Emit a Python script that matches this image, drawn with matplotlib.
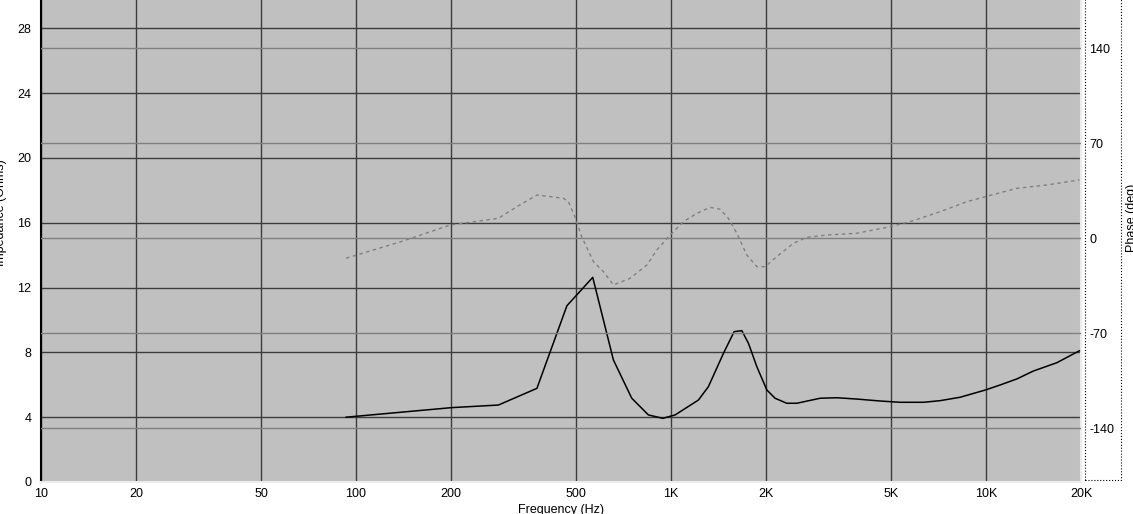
import matplotlib
matplotlib.use("Agg")
import matplotlib.pyplot as plt
from matplotlib.patches import Rectangle

plt.rcParams["font.family"] = ["Liberation Sans", "DejaVu Sans"]

# impedance curve (Hz, ohms)
imp_freq = [93, 201, 283, 375, 467, 564, 656, 750, 847, 941, 1030, 1221, 1313,
            1466, 1585, 1677, 1760, 1871, 2013, 2138, 2328, 2506, 2972, 3357,
            3882, 4603, 5330, 6322, 7142, 8265, 9950, 11080, 12510, 14120,
            16750, 19770]
imp_ohms = [4.0, 4.59, 4.75, 5.78, 10.88, 12.63, 7.53, 5.17, 4.14, 3.93, 4.14,
            5.06, 5.88, 7.94, 9.28, 9.34, 8.56, 7.12, 5.68, 5.17, 4.86, 4.86,
            5.17, 5.2, 5.12, 5.0, 4.92, 4.92, 5.02, 5.23, 5.68, 5.99, 6.36,
            6.85, 7.36, 8.1]

# phase curve (Hz, degrees)
ph_freq = [93, 141, 199, 283, 324, 375, 455, 472, 495, 520, 567, 610, 656, 741,
           838, 901, 993, 1094, 1207, 1330, 1431, 1520, 1616, 1739, 1871, 1988,
           2165, 2444, 2696, 3120, 3882, 4955, 5870, 7142, 8690, 9950, 12510,
           15600, 19770]
ph_deg = [-14.7, -2.0, 9.8, 14.7, 23.3, 31.9, 29.5, 27.0, 15.9, 1.2, -17.2,
          -24.6, -34.4, -29.5, -19.7, -8.6, 2.4, 12.2, 18.4, 22.8, 21.4, 14.7,
          3.7, -12.3, -20.9, -20.9, -13.5, -3.7, 0.7, 2.4, 3.7, 8.5, 13.0, 19.6,
          27.0, 30.7, 36.8, 39.3, 43.0]

x_ticks = [10, 20, 50, 100, 200, 500, 1000, 2000, 5000, 10000, 20000]
x_labels = ["10", "20", "50", "100", "200", "500", "1K", "2K", "5K", "10K", "20K"]
imp_ticks = [0, 4, 8, 12, 16, 20, 24, 28]
ph_ticks = [-140, -70, 0, 70, 140]

W, H = 1133, 514
fig = plt.figure(figsize=(W / 100, H / 100), dpi=100)
fig.patch.set_facecolor("white")

ax = fig.add_axes([41 / W, 32 / H, (1081 - 41) / W, 482 / H])
ax.set_facecolor("#c0c0c0")
ax.set_xscale("log")
ax.set_xlim(10, 20000)
ax.set_ylim(0, 29.75)
ax.set_xticks(x_ticks)
ax.set_xticklabels(x_labels)
ax.xaxis.set_minor_locator(matplotlib.ticker.NullLocator())
ax.set_yticks(imp_ticks)
ax.tick_params(axis="both", length=0, labelsize=9)
ax.tick_params(axis="x", pad=4)
ax.tick_params(axis="y", pad=7)
ax.grid(True, color="#3c3c3c", lw=1)
ax.set_axisbelow(True)

ax.spines["top"].set_visible(False)
ax.spines["left"].set_color("black")
ax.spines["left"].set_linewidth(1.5)
ax.spines["bottom"].set_color("#ececec")
ax.spines["bottom"].set_linewidth(1.5)
ax.spines["right"].set_color("#ececec")
ax.spines["right"].set_linewidth(1.5)

ax2 = ax.twinx()
ax2.set_ylim(-179.6, 175.6)
ax2.set_yticks(ph_ticks)
ax2.set_yticklabels(["-140", "-70", "0", "70", "140"])
ax2.tick_params(axis="y", length=0, labelsize=9, pad=6)
ax2.grid(True, axis="y", color="#808080", lw=1)
for s in ax2.spines.values():
    s.set_visible(False)

ax.plot(imp_freq, imp_ohms, color="black", lw=1.1, zorder=5)
ax2.plot(ph_freq, ph_deg, color="#808080", lw=1, linestyle=(0, (2.5, 2.5)))

# dotted frame around the phase scale
fig.patches.append(Rectangle((1085 / W, 34 / H), 36 / W, 1.0, transform=fig.transFigure,
                             fill=False, ec="black", ls=":", lw=0.8))

# axis titles, partly cut off by the picture edges as in the original
fig.text(1 / W, (H - 213) / H, "Impedance (Ohms)", rotation=90, ha="center", va="center", fontsize=9)
fig.text(1132 / W, (H - 218) / H, "Phase (deg)", rotation=90, ha="center", va="center", fontsize=9)
fig.text(561 / W, (H - 504) / H, "Frequency (Hz)", ha="center", va="top", fontsize=9)

fig.savefig("out.png", dpi=100)
